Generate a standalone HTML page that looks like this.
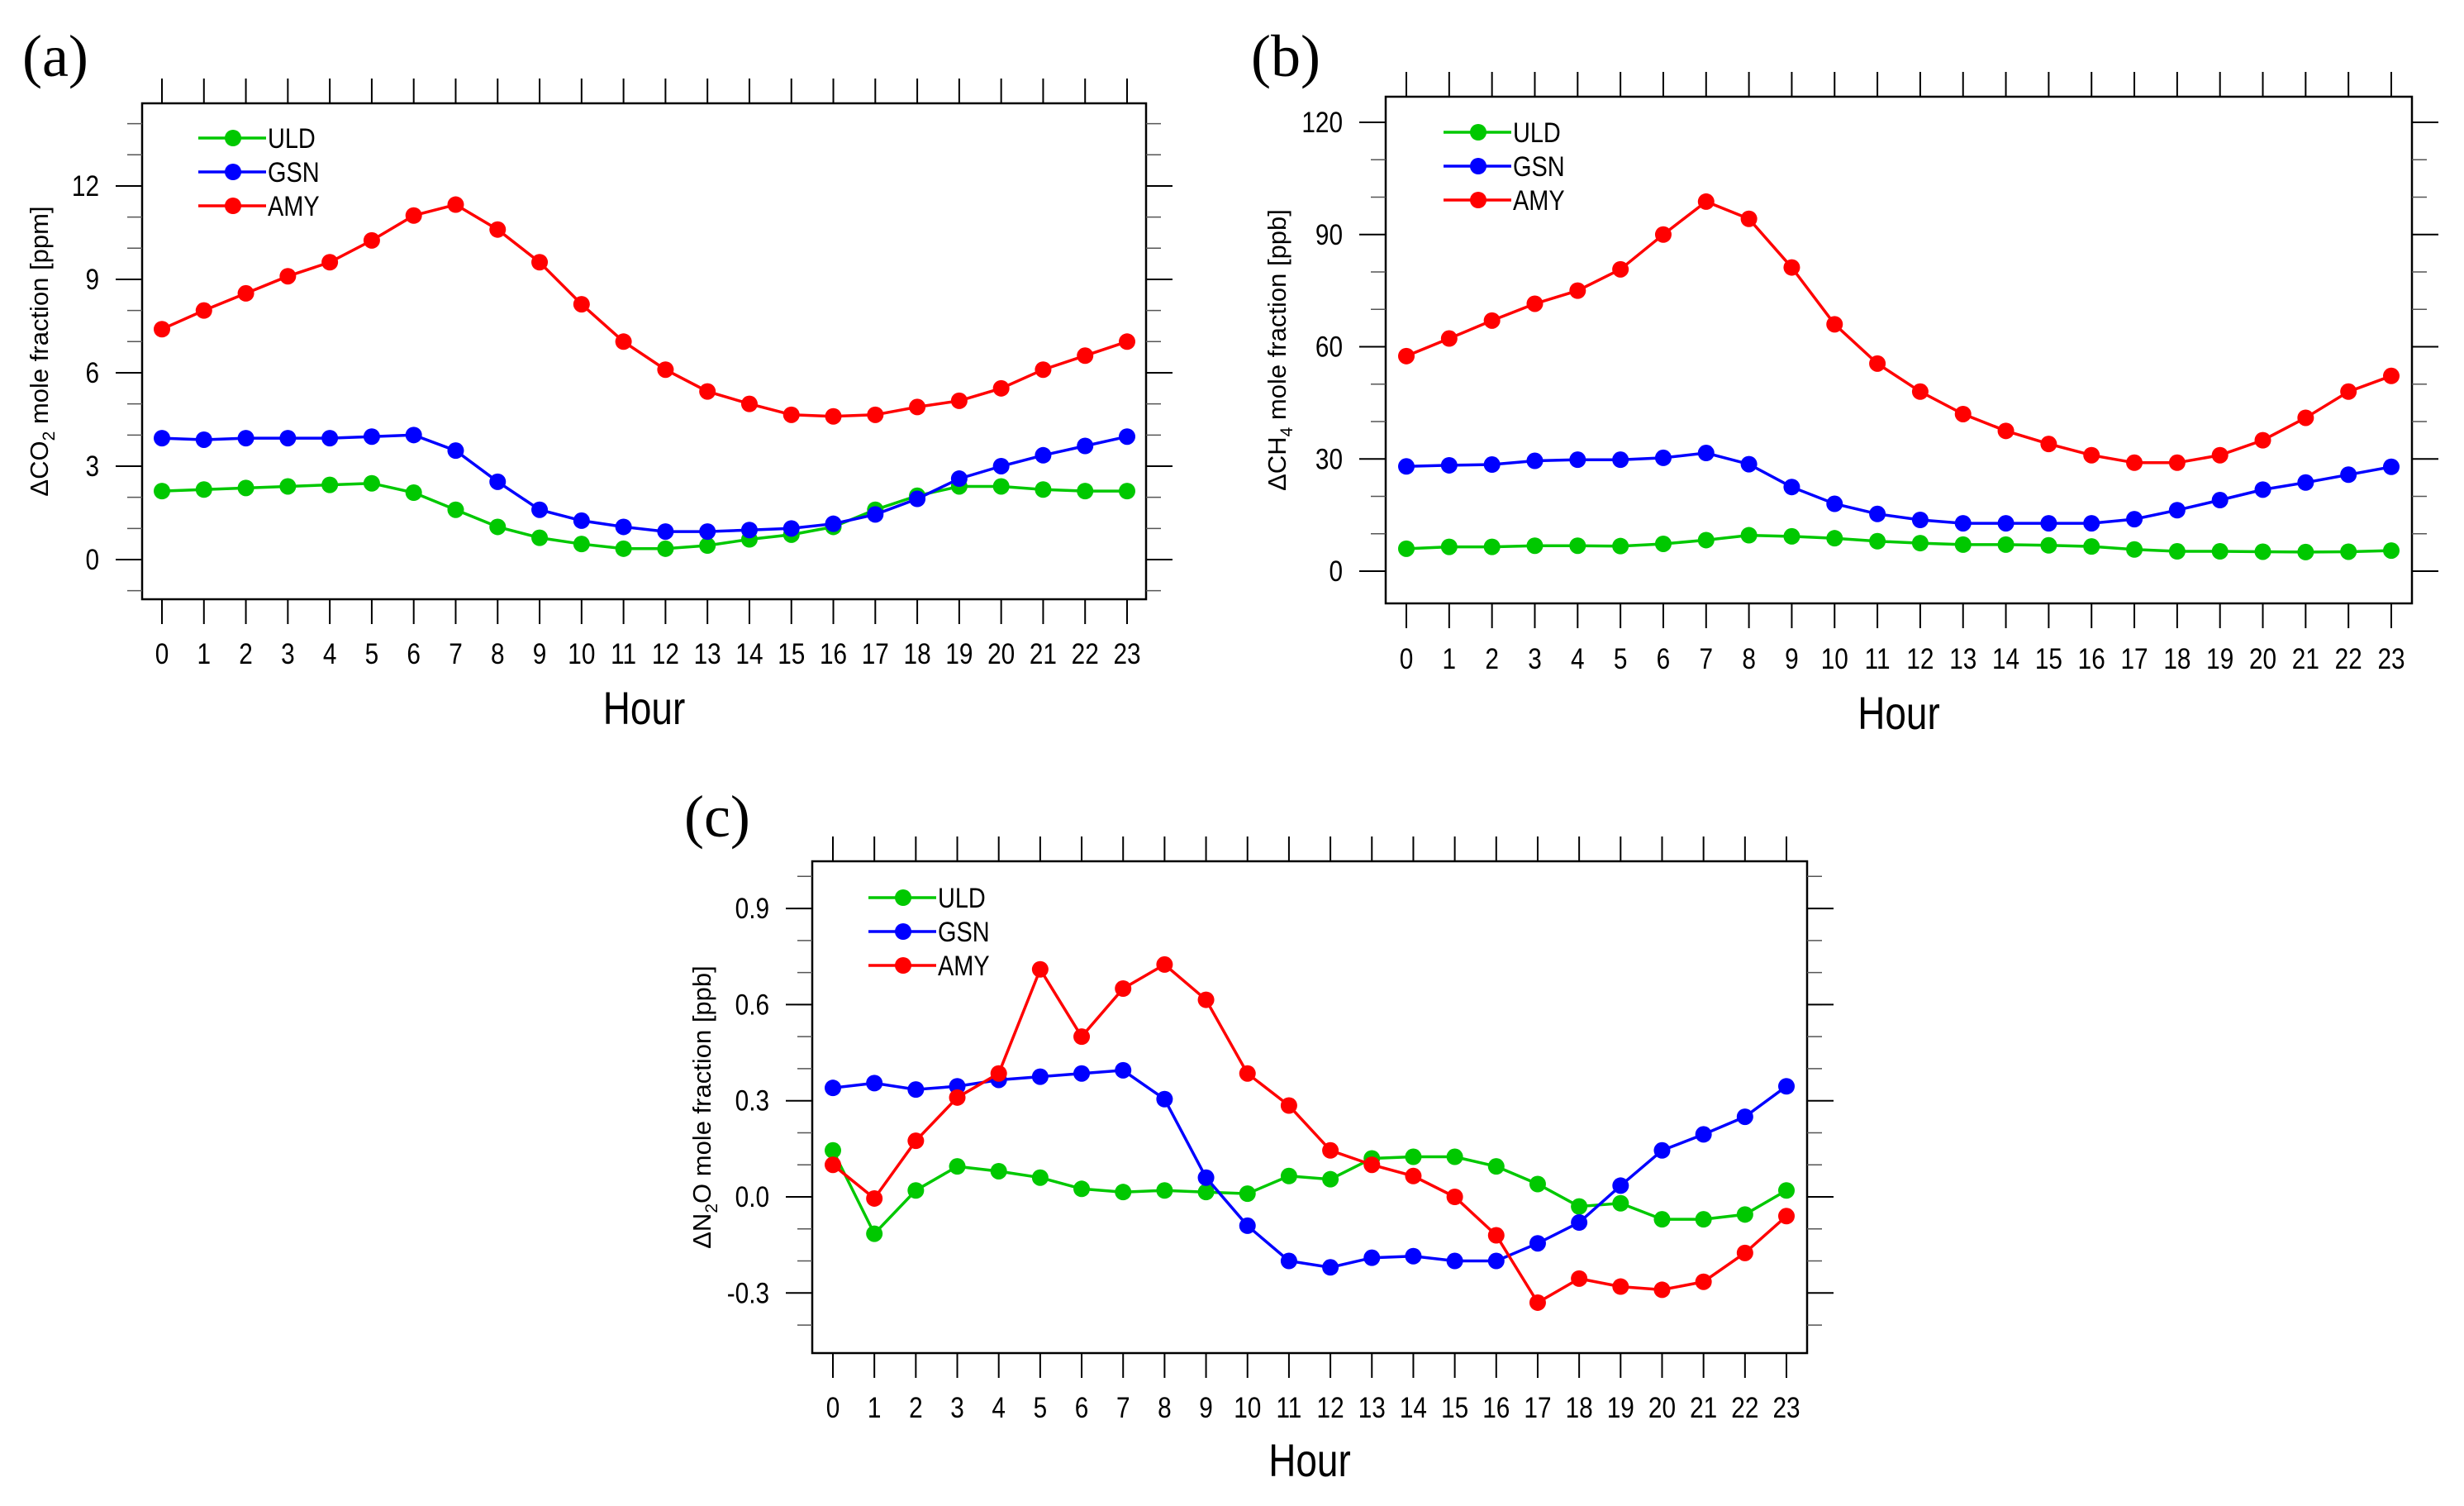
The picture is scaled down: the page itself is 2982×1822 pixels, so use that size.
<!DOCTYPE html>
<html><head><meta charset="utf-8"><style>
html,body{margin:0;padding:0;background:#fff;}
svg{display:block;}
</style></head><body>
<svg id="fig" width="2982" height="1822" viewBox="0 0 2982 1822" xmlns="http://www.w3.org/2000/svg"></svg>
<script>
const hours = [0,1,2,3,4,5,6,7,8,9,10,11,12,13,14,15,16,17,18,19,20,21,22,23];
const seriesNames = ["ULD","GSN","AMY"];
const seriesColors = ["#00c800","#0000ff","#ff0000"];

const co2ULD = [2.2,2.25,2.3,2.35,2.4,2.45,2.15,1.6,1.05,0.7,0.5,0.35,0.35,0.45,0.65,0.8,1.05,1.6,2.05,2.35,2.35,2.25,2.2,2.2];
const co2GSN = [3.9,3.85,3.9,3.9,3.9,3.95,4.0,3.5,2.5,1.6,1.25,1.05,0.9,0.9,0.95,1.0,1.15,1.45,1.95,2.6,3.0,3.35,3.65,3.95];
const co2AMY = [7.4,8.0,8.55,9.1,9.55,10.25,11.05,11.4,10.6,9.55,8.2,7.0,6.1,5.4,5.0,4.65,4.6,4.65,4.9,5.1,5.5,6.1,6.55,7.0];
const co2Ticks = [0,3,6,9,12];

const ch4ULD = [6,6.5,6.5,6.8,6.8,6.7,7.3,8.3,9.6,9.3,8.8,8,7.5,7.1,7.1,6.9,6.6,5.8,5.3,5.3,5.2,5.1,5.2,5.5];
const ch4GSN = [28,28.3,28.5,29.5,29.8,29.8,30.3,31.6,28.6,22.5,18,15.3,13.7,12.8,12.8,12.8,12.8,13.9,16.3,19,21.8,23.7,25.8,27.9];
const ch4AMY = [57.5,62.2,67,71.5,75,80.7,90,98.8,94.2,81.2,66,55.5,48,42,37.5,34,31,29,29,31,35,41,48,52.2];
const ch4Ticks = [0,30,60,90,120];

const n2oULD = [0.145,-0.115,0.02,0.095,0.08,0.06,0.025,0.015,0.02,0.015,0.01,0.065,0.055,0.12,0.125,0.125,0.095,0.04,-0.03,-0.02,-0.07,-0.07,-0.055,0.02];
const n2oGSN = [0.34,0.355,0.335,0.345,0.365,0.375,0.385,0.395,0.305,0.06,-0.09,-0.2,-0.22,-0.19,-0.185,-0.2,-0.2,-0.145,-0.08,0.035,0.145,0.195,0.25,0.345];
const n2oAMY = [0.10,-0.005,0.175,0.31,0.385,0.71,0.5,0.65,0.725,0.615,0.385,0.285,0.145,0.10,0.065,0.0,-0.12,-0.33,-0.255,-0.28,-0.29,-0.265,-0.175,-0.06];
const n2oTicks = [-0.3,0.0,0.3,0.6,0.9];
const n2oTickLabels = ["-0.3","0.0","0.3","0.6","0.9"];

const NS = "http://www.w3.org/2000/svg";
const svg = document.getElementById('fig');
function mk(tag, attrs, parent){
  const e = document.createElementNS(NS, tag);
  for (const k in attrs) e.setAttribute(k, attrs[k]);
  (parent||svg).appendChild(e);
  return e;
}
const TF = '"Liberation Sans Narrow","Liberation Sans",sans-serif';
function ntext(x, y, size, anchor, sx, parent){
  return mk('text',{x:0,y:0,'font-size':size,'font-family':TF,'text-anchor':anchor,transform:`translate(${x} ${y}) scale(${sx} 1)`},parent);
}

function panel(cfg){
  const g = mk('g', {});
  
  
  const L=cfg.L,R=cfg.R,T=cfg.T,B=cfg.B;
  const xS = h => cfg.x0 + (cfg.x23 - cfg.x0) * h / 23;
  const yS = v => cfg.yZero - (v - cfg.vZero) * cfg.ppu;
  const fr = mk('rect', {x:L,y:T,width:R-L,height:B-T,fill:'none',stroke:'#000','stroke-width':2.5}, g);
  
  
  hours.forEach(h => {
    const x = xS(h);
    const t1 = mk('line',{x1:x,x2:x,y1:T,y2:T-30,stroke:'#000','stroke-width':2},g);
    
    
    const t2 = mk('line',{x1:x,x2:x,y1:B,y2:B+30,stroke:'#000','stroke-width':2},g);
    
    
    const lb = ntext(x, cfg.xLabY, 35, 'middle', 0.85, g);
    lb.textContent = String(h);
    
    
  });
  for (let v = cfg.minorStart; v <= cfg.minorEnd + 1e-9; v += cfg.minorStep){
    const y = yS(v);
    if (y < T-1 || y > B+1) continue;
    const m1 = mk('line',{x1:L,x2:L-18,y1:y,y2:y,stroke:'#555','stroke-width':1.5},g);
    
    
    const m2 = mk('line',{x1:R,x2:R+18,y1:y,y2:y,stroke:'#555','stroke-width':1.5},g);
    
    
  }
  cfg.ticks.forEach((v,i) => {
    const y = yS(v);
    const a = mk('line',{x1:L,x2:L-32,y1:y,y2:y,stroke:'#000','stroke-width':2},g);
    
    
    const b = mk('line',{x1:R,x2:R+32,y1:y,y2:y,stroke:'#000','stroke-width':2},g);
    
    
    const t = ntext(L-52, y+12, 35, 'end', 0.85, g);
    t.textContent = cfg.tickLabels ? cfg.tickLabels[i] : String(v);
    
    
  });
  const cy = (T+B)/2;
  const yt = mk('text',{x:cfg.yTitleX,y:cy,'font-size':31,'font-family':'"Liberation Sans",sans-serif','text-anchor':'middle',transform:`rotate(-90 ${cfg.yTitleX} ${cy})`},g);
  yt.innerHTML = cfg.yTitle;
  
  
  const xt = ntext((L+R)/2, cfg.hourY, 56, 'middle', 0.82, g);
  xt.textContent = 'Hour';
  
  
  const pl = mk('text',{x:cfg.labX,y:cfg.labY,'font-size':72,'font-family':'"Liberation Serif",serif'},g);
  pl.textContent = cfg.label;
  
  
  cfg.series.forEach((arr, si) => {
    const sg = mk('g',{},g);
    
    
    const pts = arr.map((v,i)=> xS(hours[i]).toFixed(1)+','+yS(v).toFixed(1)).join(' ');
    const pl2 = mk('polyline',{points:pts,fill:'none',stroke:seriesColors[si],'stroke-width':3.5},sg);
    
    
    arr.forEach((v,i) => {
      const c = mk('circle',{cx:xS(hours[i]),cy:yS(v),r:10,fill:seriesColors[si]},sg);
      
      
    });
  });
  const lg = mk('g',{},g);
  
  
  seriesNames.forEach((nm, si) => {
    const y = cfg.legY + si*41;
    const e = mk('g',{},lg);
    
    
    mk('line',{x1:cfg.legX,x2:cfg.legX+82,y1:y,y2:y,stroke:seriesColors[si],'stroke-width':3.5},e);
    mk('circle',{cx:cfg.legX+42,cy:y,r:10,fill:seriesColors[si]},e);
    const t = ntext(cfg.legX+84, y+12, 34, 'start', 0.85, e);
    t.textContent = nm;
  });
}

panel({name:'panel-a-co2',label:'(a)',labX:27,labY:92,L:172,R:1387,T:125,B:725,x0:196,x23:1364,
  yZero:677,vZero:0,ppu:37.67,ticks:co2Ticks,minorStart:-1,minorEnd:14,minorStep:1,
  xLabY:803,hourY:876,yTitleX:58,legX:240,legY:167,
  yTitle:'ΔCO<tspan font-size="21" dy="8">2</tspan><tspan dy="-8"> mole fraction [ppm]</tspan>',
  series:[co2ULD,co2GSN,co2AMY]});
panel({name:'panel-b-ch4',label:'(b)',labX:1514,labY:92,L:1677,R:2919,T:117,B:730,x0:1702,x23:2894,
  yZero:691,vZero:0,ppu:4.525,ticks:ch4Ticks,minorStart:0,minorEnd:120,minorStep:10,
  xLabY:809,hourY:882,yTitleX:1556,legX:1747,legY:160,
  yTitle:'ΔCH<tspan font-size="21" dy="8">4</tspan><tspan dy="-8"> mole fraction [ppb]</tspan>',
  series:[ch4ULD,ch4GSN,ch4AMY]});
panel({name:'panel-c-n2o',label:'(c)',labX:828,labY:1012,L:983,R:2187,T:1042,B:1637,x0:1008,x23:2162,
  yZero:1448,vZero:0,ppu:387.7,ticks:n2oTicks,tickLabels:n2oTickLabels,minorStart:-0.4,minorEnd:1.0,minorStep:0.1,
  xLabY:1715,hourY:1786,yTitleX:860,legX:1051,legY:1086,
  yTitle:'ΔN<tspan font-size="21" dy="8">2</tspan><tspan dy="-8">O mole fraction [ppb]</tspan>',
  series:[n2oULD,n2oGSN,n2oAMY]});
</script>
</body></html>
